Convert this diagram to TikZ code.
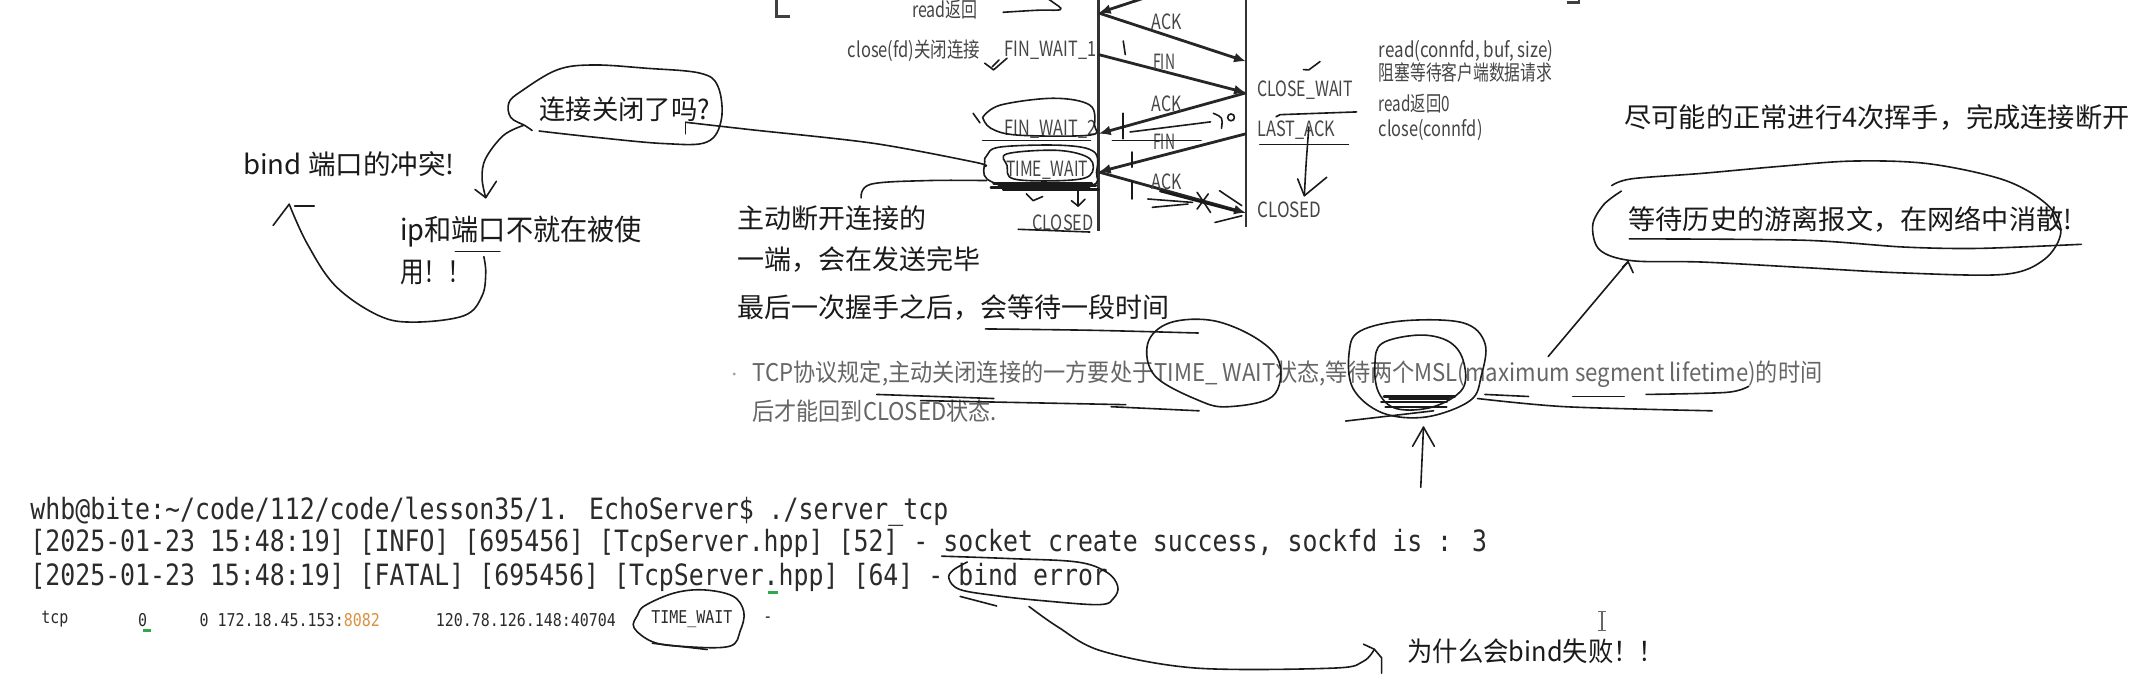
\documentclass[tikz,border=0pt]{standalone}
\usepackage{fontspec}
\usepackage{graphicx}
\setmainfont{Noto Sans CJK SC}
\newfontfamily\monof{DejaVu Sans Mono}
\usetikzlibrary{arrows.meta}
\newlength\pxu \setlength\pxu{0.6824pt}
\newcommand\fitw[2]{\resizebox{#1\pxu}{\height}{#2}}
\newcommand\tall[1]{\scalebox{1}[1.18]{#1}}
\definecolor{labc}{HTML}{454545}
\definecolor{grytxt}{HTML}{666666}
\definecolor{ink}{HTML}{1A1A1A}
\definecolor{termc}{HTML}{2B2B2B}
\definecolor{orng}{HTML}{D9923F}
\definecolor{grn}{HTML}{2EAA4A}
\tikzset{
 txt/.style={inner sep=0pt, anchor=west, font=\fontsize{13.5}{16}\selectfont, text=ink},
 lab/.style={inner sep=0pt, anchor=west, font=\fontsize{10.5}{12}\selectfont, text=labc},
 msg/.style={inner sep=0pt, anchor=center, font=\fontsize{10.5}{12}\selectfont, text=labc},
 gry/.style={inner sep=0pt, anchor=west, font=\fontsize{12.2}{14}\selectfont, text=grytxt},
 term/.style={inner sep=0pt, anchor=west, font=\monof\fontsize{12.43}{14}\selectfont, text=termc},
 netst/.style={inner sep=0pt, anchor=west, font=\monof\fontsize{7.48}{9}\selectfont, text=termc},
 hand/.style={draw=ink, line width=0.8pt, line cap=round, line join=round},
 life/.style={draw=black!80, line width=1.4pt},
 brk/.style={draw=black!75, line width=1.4pt},
 pkt/.style={draw=black!85, line width=1.4pt, -{Latex[length=6pt,width=5pt]}},
}
\begin{document}
\begin{tikzpicture}[x=0.6824pt,y=-0.6824pt]
\useasboundingbox (0,0) rectangle (1568,503);
\fill[white] (0,0) rectangle (1568,503);
\clip (0,0) rectangle (1568,503);

% ---------- sequence diagram ----------
\coordinate (L0) at (805,-2); \coordinate (Lb) at (805,169);
\coordinate (R0) at (913,-2); \coordinate (Rb) at (913,166);
\coordinate (Rtop) at (913,-26);
\coordinate (L1) at (805,9.5); \coordinate (R1) at (913,45);
\coordinate (L2) at (805,40);  \coordinate (R2) at (913,68);
\coordinate (L3) at (805,98);  \coordinate (R3) at (913,98);
\coordinate (L4) at (805,126); \coordinate (R4) at (913,156);
\draw[life] (L0) -- (Lb);
\draw[life] (R0) -- (Rb);
\draw[brk] (569,-3) -- (569,12) -- (579,12);
\draw[brk] (1148,2) -- (1157,2) -- (1157,-4);
\draw[pkt] (Rtop) -- (L1);
\draw[pkt] (L1) -- (R1);
\draw[pkt] (L2) -- (R2);
\draw[pkt] (R2) -- (L3);
\draw[pkt] (R3) -- (L4);
\draw[pkt] (L4) -- (R4);
\node[msg] (m1) at (855,16) {\fitw{22}{ACK}};
\node[msg] (m2) at (853,45) {\fitw{16}{FIN}};
\node[msg] (m3) at (855,76) {\fitw{22}{ACK}};
\node[msg] (m4) at (853,104) {\fitw{16}{FIN}};
\node[msg] (m5) at (855,133) {\fitw{22}{ACK}};

\node[lab] (rr)  at (668,7)  {\fitw{48}{read返回}};
\node[lab] (cf)  at (621,37) {\fitw{97}{close(fd)关闭连接}};
\node[lab] (fw1) at (736,37) {\fitw{67}{FIN\_WAIT\_1}};
\node[lab] (fw2) at (736,95) {\fitw{67}{FIN\_WAIT\_2}};
\node[lab] (tw)  at (737,125) {\fitw{60}{TIME\_WAIT}};
\node[lab] (clL) at (756,163) {\fitw{45}{CLOSED}};
\node[lab] (cw)  at (921,66) {\fitw{70}{CLOSE\_WAIT}};
\node[lab] (la)  at (921,95) {\fitw{57}{LAST\_ACK}};
\node[lab] (clR) at (921,154) {\fitw{47}{CLOSED}};
\node[lab] (rc)  at (1010,37) {\fitw{128}{read(connfd, buf, size)}};
\node[lab] (zs)  at (1010,53) {\fitw{127}{阻塞等待客户端数据请求}};
\node[lab] (r0)  at (1010,76) {\fitw{52}{read返回0}};
\node[lab] (cc)  at (1010,95) {\fitw{76}{close(connfd)}};

% hand strokes on the sequence diagram
\draw[hand] plot[smooth,tension=0.6] coordinates {(735,9) (760,7.5) (777,7) (772,2) (766,-2)};
\draw[hand] (721.5,46.3) -- (728,51.2) -- (737.9,42.6);
\draw[hand] (727,49) -- (732,44);
\draw[hand] (823,30) -- (824.5,40);
\draw[hand] (713,83) -- (718,90);
\draw[hand] plot[smooth,tension=0.6] coordinates {(720,86) (733,77) (772,72) (798.5,77) (802,91.8) (798.5,99) (746,99) (726,94) (720,86)};
\draw[hand] (720,103) -- (799,103);
\draw[hand] plot[smooth cycle,tension=0.6] coordinates {(723.1,113.9) (733,107.7) (778.8,106.5) (801.8,111.4) (803.4,126.2) (798.5,136) (746.1,137.2) (723.1,131.1) (721.5,118.8)};
\draw[hand] plot[smooth cycle,tension=0.6] coordinates {(737.9,112.7) (775.5,110.2) (798.5,116.3) (798.5,128.6) (778.8,132.3) (742.8,131.1) (737.9,121.3)};
\foreach \yy/\a/\b in {134.5/728/800, 136/732/803, 137.5/726/798, 139/735/805}
  \draw[hand, line width=1.3pt] (\a,\yy) -- (\b,\yy);
\draw[hand] plot[smooth,tension=0.6] coordinates {(631,145) (638,135) (680,132.3) (723,132.3)};
\draw[hand] (790,139) -- (790,151);
\draw[hand] (785,147) -- (790,151) -- (795,146);
\draw[hand] (752,142) -- (757,147) -- (764,144);
\draw[hand] (746,168) -- (798.5,170);
\draw[hand] (823,83) -- (823,101.6);
\draw[hand] (828,96.7) -- (887,89.3);
\draw[hand] (815,102.8) -- (880,102.8);
\draw[hand] (889,83) .. controls (896,86) .. (895,94);
\draw[hand] (902,86) circle (2.5);
\draw[hand] (829.6,111.4) -- (829.6,122.5);
\draw[hand] (829.6,132.3) -- (829.6,145.8);
\draw[hand] (841,145.8) -- (873.8,148.3);
\draw[hand] (844.3,151.9) -- (870.5,149.5);
\draw[hand] (877.1,140.9) -- (887,155.7);
\draw[hand] (885.3,142.1) -- (877.1,153.2);
\draw[hand] (893.5,139.7) -- (909.9,150.7);
\draw[hand] (890.2,163) -- (909.9,158.1);
\draw[hand, line width=1.2pt] (850,140) -- (905,154.5);
\draw[hand] (955,51) -- (959,51.2) -- (967.2,45.1);
\draw[hand] (935,85.5) -- (938,84) -- (994,82);
\draw[hand] (923,106) -- (988,106);
\draw[hand] plot[smooth,tension=0.5] coordinates {(959,93) (957,120) (955.7,143.4)};
\draw[hand] (950.8,131.1) -- (955.7,143.4) -- (972.1,129.9);

% ---------- left annotations ----------
\node[txt] (bindc) at (178,120) {\fitw{155}{bind 端口的冲突!}};
\node[txt] (closeq) at (395,80) {\fitw{125}{连接关闭了吗?}};
\node[txt, font=\fontsize{14.5}{17}\selectfont] (ipp) at (293,170) {\fitw{177}{ip和端口不就在被使}};
\node[txt, font=\fontsize{14.5}{17}\selectfont] (yong) at (293,200) {\fitw{52}{用！！}};
\draw[hand] plot[smooth,tension=0.6] coordinates {(389.9,95.6) (384.6,92) (374.2,86) (372.9,75.2) (382,66.8) (408.2,51.2) (434.4,47.6) (473.6,50) (512.9,53.6) (526,63.2) (528.6,87.2) (518.1,104) (486.7,105.2) (434.4,100.4) (395,96)};
\draw[hand] plot[smooth,tension=0.6] coordinates {(383.3,92) (368.9,99.2) (355.9,116) (353.2,130.4) (355.9,144.8)};
\draw[hand] (348,138.8) -- (355.9,144.8) -- (363.7,132.8);
\draw[hand] (502.4,89.6) -- (502.4,98);
\draw[hand] plot[smooth,tension=0.5] coordinates {(502.4,89.6) (550,95) (640,105) (715,119) (722,122)};
\draw[hand] (333.6,184.4) -- (366.3,184.4);
\draw[hand] plot[smooth,tension=0.6] coordinates {(354.5,188) (355.9,200) (353.2,216.8) (340.2,231.2) (303.5,236) (277.4,231.2) (245.9,209.6) (225,178.4) (211.9,149.6)};
\draw[hand] (200.1,165.2) -- (211.9,149.6);
\draw[hand] (215.9,150.8) -- (230.2,150.8);

% ---------- middle explanation ----------
\node[txt] (zd1) at (540,160) {主动断开连接的};
\node[txt] (zd2) at (540,190) {一端，会在发送完毕};
\node[txt] (zd3) at (540,225) {最后一次握手之后，会等待一段时间};
\draw[hand] plot[smooth,tension=0.5] coordinates {(722,241) (800,242) (878,244)};

\fill[grytxt!60] (538,274) circle (1.2);
\node[gry] (tcp1) at (551,274) {\fitw{784}{TCP协议规定,主动关闭连接的一方要处于TIME\_ WAIT状态,等待两个MSL(maximum segment lifetime)的时间}};
\node[gry] (tcp2) at (551,301) {\fitw{179}{后才能回到CLOSED状态.}};
\draw[hand] plot[smooth cycle,tension=0.6] coordinates {(857.1,236.5) (889.3,235) (921.5,248.5) (937.6,266.5) (932.3,290.5) (900,298) (878.6,293.5) (846.3,275.5) (841,251.5)};
\draw[hand] plot[smooth cycle,tension=0.6] coordinates {(996.7,242.5) (1029,235) (1071.9,236.5) (1088,251.5) (1085.3,275.5) (1077.2,293.5) (1045,305.5) (1012.8,302.5) (991.3,284.5) (988.6,257.5)};
\draw[hand] plot[smooth cycle,tension=0.6] coordinates {(1012.8,251.5) (1039.7,245.5) (1061.1,250) (1071.9,263.5) (1071.9,284.5) (1050.4,298) (1023.6,299.5) (1010.1,287.5) (1007.4,266.5)};
\foreach \yy/\a/\b in {290.5/1014/1066, 292.5/1018/1062, 294.5/1012/1060}
  \draw[hand, line width=1.2pt] (\a,\yy) -- (\b,\yy);
\draw[hand] (986,308.5) -- (1050.4,301);
\draw[hand] (1015,298) -- (1060,298);
\draw[hand] (1088,289) -- (1120,290.5);
\draw[hand] (1152.4,290.5) -- (1190,290.5);
\draw[hand] plot[smooth,tension=0.5] coordinates {(1206.1,289) (1265.2,287.5) (1281.3,283)};
\draw[hand] plot[smooth,tension=0.5] coordinates {(1082.6,292) (1147,298) (1254.5,301)};
\draw[hand] (642.3,289) -- (728.2,292);
\draw[hand] (674.5,293.5) -- (824.9,296.5);
\draw[hand] (814.1,298) -- (878.6,301);

% arrows around MSL
\coordinate (upB) at (1041,357);
\coordinate (upT) at (1043,313);
\draw[hand] (upB) -- (upT);
\draw[hand] (1035,327) -- (upT) -- (1051,327);
\coordinate (dgA) at (1134.3,261.3);
\coordinate (dgB) at (1192.9,191.7);
\draw[hand] (dgA) -- (dgB);
\draw[hand] (1188.8,195.8) -- (dgB) -- (1196.6,199.8);

% ---------- right annotations ----------
\node[txt] (jk) at (1190,86) {\fitw{370}{尽可能的正常进行4次挥手，完成连接断开}};
\node[txt] (dd) at (1193,161) {\fitw{325}{等待历史的游离报文，在网络中消散!}};
\draw[hand] plot[smooth,tension=0.55] coordinates {(1180.9,136) (1195.6,131) (1247.3,127) (1302.7,122) (1358,118) (1413.4,120) (1468.7,132) (1500,150) (1510,170) (1498,190) (1468.7,201) (1394.9,200) (1321.1,196) (1247.3,192) (1195.6,191) (1172,183) (1167,165) (1175,150) (1188,140)};
\draw[hand] plot[smooth,tension=0.5] coordinates {(1193.8,175) (1321.1,176) (1394.9,181) (1450,182) (1525,179)};

% ---------- terminal ----------
\node[term] (t1) at (22,375) {\tall{whb@bite:\textasciitilde/code/112/code/lesson35/1. EchoServer\$ ./server\_tcp}};
\node[term] (t2) at (22,398) {\tall{[2025-01-23 15:48:19] [INFO] [695456] [TcpServer.hpp] [52] - socket create success, sockfd is : 3}};
\node[term] (t3) at (22,423) {\tall{[2025-01-23 15:48:19] [FATAL] [695456] [TcpServer.hpp] [64] - bind error}};
\node[netst] (n1) at (30,454) {\tall{tcp}};
\node[netst] (n2) at (101,454) {\tall{0}};
\node[netst] (n3) at (146,454) {\tall{0 172.18.45.153:\textcolor{orng}{8082}}};
\node[netst] (n4) at (319,454) {\tall{120.78.126.148:40704}};
\node[netst] (n5) at (477,454) {\tall{TIME\_WAIT}};
\node[netst] (n6) at (559,454) {\tall{-}};
\draw[grn, line width=1.2pt] (105,462) -- (111,462);
\draw[grn, line width=1.2pt] (563,434) -- (570,434);

\draw[hand] plot[smooth,tension=0.6] coordinates {(690,407.5) (741,409.3) (789.4,411.8) (810.9,419.3) (818.9,429.3) (816.2,438) (805.5,443) (762.5,440) (730.3,436.5) (703.5,432) (695.4,424.3) (698,418) (708.8,411.8)};
\draw[hand] (703.5,437) -- (730.3,444);
\draw[hand] plot[smooth cycle,tension=0.6] coordinates {(467.2,450.6) (472.6,443.7) (494,434.5) (515.5,432.2) (537,436.8) (545,448.3) (542.4,462.1) (534.3,473.6) (499.4,473.6) (478,470.2) (464.5,459.8)};
\draw[hand] (478,471.3) -- (518.2,475.9);

\node[txt] (why) at (1031,477) {\fitw{188}{为什么会bind失败！！}};
\draw[hand] plot[smooth,tension=0.55] coordinates {(753.9,444.3) (775.2,459.4) (807.2,477) (876.4,489.5) (977.6,489.5) (999,484.5) (1007,475.7)};
\draw[hand] (999,472) -- (1007,475.7) -- (1012.3,482) -- (1012.3,493.3);
\draw[black!60, line width=0.7pt] (1173.7,448) -- (1173.7,462) (1171,448) -- (1176.4,448) (1171,462) -- (1176.4,462);
\end{tikzpicture}
\end{document}
